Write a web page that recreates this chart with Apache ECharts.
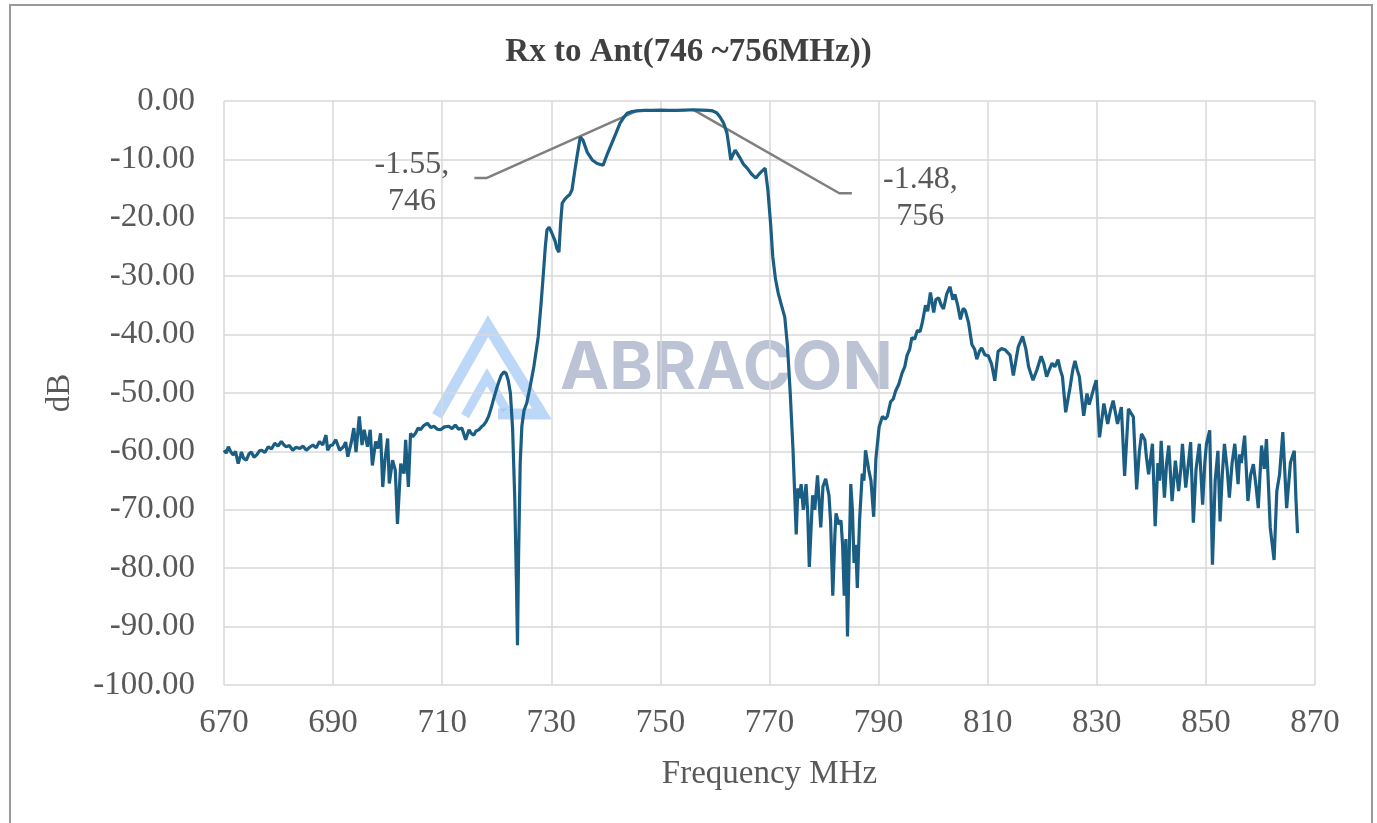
<!DOCTYPE html>
<html>
<head>
<meta charset="utf-8">
<script src="https://cdn.jsdelivr.net/npm/echarts@6/dist/echarts.min.js"></script>
<style>
html,body{margin:0;padding:0;background:#fff;}
#chart{width:1377px;height:823px;}
</style>
</head>
<body>
<div id="chart"></div>
<script>
// ---- data (frequency MHz, dB) ----
const chartTitle = 'Rx to Ant(746 ~756MHz))';
const xTicks = { min: 670, max: 870, step: 20 };
const yTicks = { min: -100, max: 0, step: 10 };

const lowerStopband = [
[670.0,-59.8],[670.4,-60.3],[670.8,-59.2],[671.2,-60.0],[671.7,-60.6],[672.1,-60.0],[672.6,-62.1],[673.0,-60.8],[673.2,-60.1],[673.6,-61.2],[674.1,-61.5],[674.6,-60.4],[675.0,-60.1],[675.5,-61.0],[676.0,-60.6],[676.5,-59.9],[676.9,-59.8],[677.5,-60.2],[678.1,-59.2],[678.7,-59.6],[679.3,-58.6],[679.9,-59.1],[680.5,-58.3],[681.0,-58.9],[681.4,-59.2],[682.0,-59.0],[682.6,-59.8],[683.2,-59.3],[683.9,-59.5],[684.5,-59.1],[685.1,-59.8],[685.7,-59.3],[686.3,-58.9],[686.9,-59.4],[687.5,-58.3],[688.1,-58.9],[688.7,-57.2],[689.0,-59.8],[689.5,-59.0],[689.9,-58.9],[690.5,-58.0],[691.2,-59.8],[691.9,-59.2],[692.3,-58.4],[692.7,-60.9],[693.3,-58.6],[693.8,-56.0],[694.2,-60.1],[694.8,-54.0],[695.3,-58.9],[695.7,-56.3],[696.3,-59.2],[696.8,-56.3],[697.2,-62.4],[697.8,-58.3],[698.2,-59.5],[698.7,-56.9],[699.1,-66.1],[699.5,-61.5],[700.0,-57.8],[700.3,-65.5],[700.9,-61.5],[701.4,-63.2],[701.8,-72.4],[702.4,-62.1],[703.0,-63.8],[703.3,-58.0],[703.8,-66.1],[704.2,-56.9],[704.6,-57.5],[705.1,-56.9],[705.6,-56.0],[706.0,-56.3],[706.6,-55.6],[707.3,-55.2],[707.9,-55.9],[708.5,-55.7],[709.1,-56.2],[709.7,-56.3],[710.4,-55.8],[711.2,-55.7],[711.8,-56.1],[712.4,-55.5],[713.0,-56.2],[713.6,-56.0],[714.3,-58.0],[714.9,-56.3],[715.4,-57.0],[715.8,-57.2],[716.2,-56.5],[716.7,-56.3],[717.2,-55.8],[717.6,-55.5],[718.1,-54.8],[718.5,-54.0]
];

const passband = [
[719.0,-52.5],[719.4,-51.1],[719.9,-49.5],[720.3,-48.3],[720.8,-47.0],[721.3,-46.4],[721.7,-46.6],[722.1,-47.8],[722.5,-50.0],[722.9,-56.0],[723.3,-68.0],[723.6,-82.0],[723.8,-93.2],[724.0,-78.0],[724.3,-62.0],[724.6,-55.7],[725.0,-53.0],[725.5,-51.7],[726.1,-49.0],[726.8,-45.5],[727.6,-40.4],[728.1,-35.0],[728.5,-30.1],[728.9,-25.0],[729.2,-22.1],[729.6,-21.6],[730.1,-22.6],[730.7,-24.0],[731.0,-25.2],[731.4,-25.9],[731.7,-21.0],[732.0,-17.5],[732.5,-16.8],[732.9,-16.4],[733.4,-16.0],[733.8,-15.2],[734.3,-12.0],[734.7,-9.6],[735.3,-6.2],[735.8,-6.7],[736.6,-8.8],[737.5,-10.1],[738.4,-10.7],[739.5,-11.0],[740.3,-9.0],[741.1,-7.2],[741.9,-5.4],[742.6,-3.8],[743.3,-2.8],[743.9,-2.1],[744.8,-1.8],[745.7,-1.7],[747.0,-1.6],[748.5,-1.6],[750.0,-1.55],[751.5,-1.6],[753.0,-1.6],[754.5,-1.55],[756.0,-1.5],[757.5,-1.55],[758.7,-1.6],[759.6,-1.7],[760.3,-2.0],[760.9,-2.7],[761.6,-3.8],[762.2,-5.5],[762.6,-8.0],[762.9,-10.1],[763.3,-9.2],[763.7,-8.4],[764.5,-9.6],[765.2,-10.8],[765.9,-11.5],[766.7,-12.5],[767.5,-13.2],[768.3,-12.3],[769.2,-11.5],[769.7,-15.2],[770.2,-21.0],[770.6,-26.7],[771.1,-30.5],[771.6,-32.9],[772.2,-35.0],[772.8,-37.0],[773.3,-42.0],[773.8,-50.0],[774.3,-59.5]
];

const upperStopband = [
[774.9,-74.2],[775.2,-66.3],[775.5,-68.0],[775.8,-65.6],[776.2,-70.0],[776.7,-65.6],[777.0,-70.5],[777.3,-79.8],[777.9,-67.5],[778.3,-70.0],[778.8,-64.1],[779.4,-73.0],[779.8,-66.0],[780.3,-64.7],[780.9,-67.5],[781.2,-72.0],[781.6,-84.7],[782.0,-74.0],[782.2,-70.6],[782.7,-72.5],[783.1,-71.8],[783.4,-76.0],[783.7,-84.7],[784.0,-75.0],[784.3,-91.7],[784.6,-78.0],[784.9,-65.6],[785.2,-70.0],[785.5,-79.1],[785.8,-76.0],[786.1,-83.4],[786.5,-72.0],[787.0,-63.8],[787.3,-65.0],[787.6,-59.8],[788.2,-63.2],[788.6,-65.0],[789.1,-71.2],[789.5,-61.3],[790.1,-55.8],[790.7,-54.0],[791.2,-54.5],[791.6,-54.0],[792.2,-51.5],[792.7,-51.0],[793.1,-49.7],[793.7,-48.5],[794.3,-46.6],[794.8,-45.5],[795.2,-43.6],[795.7,-42.5],[796.1,-40.5],[796.6,-40.8],[797.1,-39.3],[797.6,-39.5],[798.0,-38.0],[798.6,-35.0],[799.0,-36.0],[799.5,-32.8],[800.1,-36.2],[800.5,-34.0],[801.0,-33.7],[801.5,-35.0],[801.9,-35.6],[802.5,-33.0],[803.1,-31.8],[803.6,-34.0],[804.0,-33.1],[804.5,-35.0],[805.0,-37.4],[805.5,-35.5],[805.9,-35.9],[806.5,-38.0],[807.1,-41.7],[807.6,-42.5],[808.0,-44.2],[808.5,-42.8],[808.9,-42.3],[809.5,-43.5],[810.1,-43.6]
];

const upperSkirt = [
[810.7,-45.0],[811.3,-47.9],[811.9,-42.9],[812.5,-42.4],[813.2,-42.6],[814.1,-43.5],[814.7,-47.0],[815.6,-42.1],[816.4,-40.3],[817.0,-42.5],[817.5,-45.5],[818.3,-47.8],[819.0,-46.1],[819.8,-43.7],[820.3,-45.0],[820.8,-47.2],[821.3,-46.0],[821.8,-44.9],[822.3,-45.5],[822.9,-44.3],[823.3,-46.0],[823.7,-47.2],[824.3,-53.3],[825.1,-49.0],[825.6,-46.0],[826.0,-44.5],[826.4,-46.0],[826.8,-47.2],[827.6,-53.9],[828.2,-50.1],[828.6,-52.0],[829.0,-50.7],[829.5,-49.0],[829.9,-47.8],[830.5,-57.6],[831.3,-51.8],[832.0,-55.3],[832.5,-53.0],[833.0,-51.3],[833.8,-55.3],[834.5,-52.4],[835.1,-64.2],[835.8,-52.7],[836.3,-53.5],[836.7,-54.1],[837.3,-66.5],[837.8,-60.0],[838.2,-57.0],[838.8,-58.0],[839.1,-61.0],[839.5,-63.9],[840.2,-58.7],[840.7,-72.8],[841.2,-62.0],[841.5,-65.0],[841.8,-58.2],[842.4,-67.9],[842.8,-62.0],[843.2,-59.0],[843.8,-68.5],[844.4,-61.6],[845.0,-66.8],[845.4,-63.0],[845.7,-58.7],[846.3,-66.2],[846.8,-62.0],[847.2,-58.4],[847.7,-72.2],[848.2,-63.0],[848.8,-58.7],[849.1,-64.0],[849.4,-69.1],[849.8,-62.0],[850.1,-58.7],[850.7,-56.4],[851.2,-79.4],[851.7,-65.0],[852.2,-59.9],[852.6,-72.0],[853.0,-64.0],[853.4,-58.7],[853.9,-63.0],[854.3,-67.9],[854.8,-62.0],[855.3,-58.7],[855.9,-65.6],[856.2,-60.5],[856.5,-62.0],[857.1,-57.3],[857.7,-68.5],[858.2,-64.0],[858.7,-62.2],[859.2,-66.0],[859.6,-69.7],[860.2,-59.0],[860.7,-63.0],[861.1,-57.9],[861.8,-73.1],[862.5,-78.6],[863.0,-66.8],[863.5,-64.0],[864.1,-56.7],[864.8,-69.7],[865.5,-61.9],[866.2,-59.9],[866.5,-68.0],[866.8,-74.0]
];

// data-label leader lines (label anchor, elbow, marked point)
const leftLeader = [[715.9,-13.2],[718.1,-13.2],[746,-1.55]];
const rightLeader = [[756,-1.48],[782.8,-15.8],[785.1,-15.8]];
const leftLabel = '-1.55,\n746';
const rightLabel = '-1.48,\n756';

const curve = lowerStopband.concat(passband, upperStopband, upperSkirt);

// ---- chart ----
const chart = echarts.init(document.getElementById('chart'));
const serif = 'Liberation Serif, Times New Roman, serif';
const gray = '#595959';

const labelStyle = {
  fontFamily: serif, fontSize: 32, color: gray, lineHeight: 37, align: 'center', opacity: 1,
  offset: [0, 5]
};

chart.setOption({
  animation: false,
  backgroundColor: '#ffffff',
  title: {
    text: chartTitle, left: 'center', top: 31,
    textStyle: { fontFamily: serif, fontSize: 33, fontWeight: 'bold', color: '#404040' }
  },
  grid: { left: 224, right: 62, top: 101, bottom: 138, containLabel: false },
  xAxis: {
    type: 'value', min: xTicks.min, max: xTicks.max, interval: xTicks.step,
    name: 'Frequency MHz', nameLocation: 'middle', nameGap: 73,
    nameTextStyle: { fontFamily: serif, fontSize: 33, color: gray },
    axisLine: { show: false }, axisTick: { show: false },
    axisLabel: { fontFamily: serif, fontSize: 33, color: gray, margin: 22 },
    splitLine: { show: true, lineStyle: { color: '#d9d9d9', width: 1.5 } }
  },
  yAxis: {
    type: 'value', min: yTicks.min, max: yTicks.max, interval: yTicks.step,
    name: 'dB', nameLocation: 'middle', nameGap: 147,
    nameTextStyle: { fontFamily: serif, fontSize: 33, color: gray },
    axisLine: { show: false }, axisTick: { show: false },
    axisLabel: { fontFamily: serif, fontSize: 33, color: gray, margin: 29,
      formatter: v => v.toFixed(2) },
    splitLine: { show: true, lineStyle: { color: '#d9d9d9', width: 1.5 } }
  },
  graphic: [
    { type: 'rect', silent: true, z: -10,
      shape: { x: 10, y: 5, width: 1362, height: 840 },
      style: { fill: 'none', stroke: '#9a9a9a', lineWidth: 2 } },
    { type: 'group', silent: true, z: 1, children: [
      { type: 'polyline', shape: { points: [[437,416],[488,326],[542,414],[498,414]] },
        style: { fill: 'none', stroke: 'rgba(160,198,245,0.7)', lineWidth: 11, lineJoin: 'miter' } },
      { type: 'polyline', shape: { points: [[465,416],[487,377],[506,410]] },
        style: { fill: 'none', stroke: 'rgba(160,198,245,0.7)', lineWidth: 9, lineJoin: 'miter' } },
      { type: 'text', x: 560, y: 369,
        style: { text: 'ABRACON', fontFamily: 'Inter, Roboto, sans-serif', fontWeight: 'bold',
          fontSize: 66, fill: 'rgba(160,170,195,0.7)', verticalAlign: 'middle', textAlign: 'left' } }
    ]}
  ],
  series: [
    {
      type: 'line', data: curve, showSymbol: false, symbol: 'none', z: 5,
      lineStyle: { color: '#1b5e84', width: 3.2 }, silent: true
    },
    {
      type: 'line', z: 4, silent: true, symbol: 'circle', symbolSize: 1, showSymbol: true,
      itemStyle: { color: 'rgba(0,0,0,0)', borderWidth: 0 },
      lineStyle: { color: '#7f7f7f', width: 2.5 },
      data: leftLeader.map((p, i) => i === 0
        ? { value: p, label: { show: true, position: 'left', distance: 62, formatter: leftLabel, ...labelStyle } }
        : { value: p })
    },
    {
      type: 'line', z: 4, silent: true, symbol: 'circle', symbolSize: 1, showSymbol: true,
      itemStyle: { color: 'rgba(0,0,0,0)', borderWidth: 0 },
      lineStyle: { color: '#7f7f7f', width: 2.5 },
      data: rightLeader.map((p, i) => i === rightLeader.length - 1
        ? { value: p, label: { show: true, position: 'right', distance: 68, formatter: rightLabel, ...labelStyle } }
        : { value: p })
    }
  ]
});
</script>
</body>
</html>
